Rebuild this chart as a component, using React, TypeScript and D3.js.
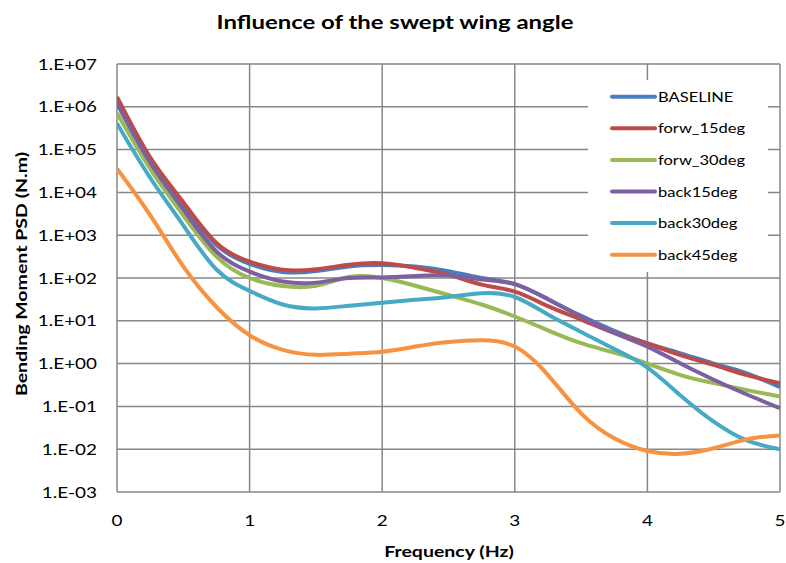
import React from "react";
import * as d3 from "d3";

const freqs = [0, 0.25, 0.5, 0.75, 1, 1.25, 1.5, 1.75, 2, 2.25, 2.5, 2.75, 3, 3.25, 3.5, 3.75, 4, 4.25, 4.5, 4.75, 5];

const baseline = [1.4e6, 5.6e4, 5.0e3, 590, 214, 138, 145, 186, 200, 185, 145, 100, 72, 32, 13, 5.8, 2.95, 1.74, 1.0, 0.59, 0.28];
const forw15 = [1.7e6, 6.6e4, 5.9e3, 660, 240, 155, 160, 204, 220, 172, 120, 70, 48, 22, 10.7, 5.2, 2.95, 1.58, 0.93, 0.54, 0.35];
const forw30 = [7.2e5, 3.6e4, 2.9e3, 316, 100, 65, 66, 105, 100, 66, 40, 24, 12.6, 6.0, 3.0, 1.8, 1.0, 0.54, 0.35, 0.24, 0.17];
const back15 = [1.2e6, 5.0e4, 4.0e3, 417, 141, 83, 78, 100, 103, 112, 114, 92, 72, 32, 12.6, 5.2, 2.5, 1.0, 0.42, 0.19, 0.091];
const back30 = [4.1e5, 2.2e4, 1.7e3, 158, 50, 24, 19.5, 22.5, 26.3, 31, 36, 44, 36, 14, 5.5, 2.2, 0.81, 0.18, 0.044, 0.016, 0.01];
const back45 = [3.6e4, 2.95e3, 186, 21, 4.6, 2.1, 1.6, 1.7, 1.9, 2.5, 3.2, 3.5, 2.5, 0.54, 0.069, 0.018, 0.0091, 0.0078, 0.0105, 0.017, 0.021];

const seriesNames = ["BASELINE", "forw_15deg", "forw_30deg", "back15deg", "back30deg", "back45deg"];
const seriesValues = [baseline, forw15, forw30, back15, back30, back45];
const seriesColors = ["#4A7EBB", "#BE4B48", "#98B954", "#7D60A0", "#46AAC5", "#F69240"];

const yTicks = [1e7, 1e6, 1e5, 1e4, 1e3, 1e2, 1e1, 1e0, 1e-1, 1e-2, 1e-3];
const yTickLabels = ["1.E+07", "1.E+06", "1.E+05", "1.E+04", "1.E+03", "1.E+02", "1.E+01", "1.E+00", "1.E-01", "1.E-02", "1.E-03"];
const xTicks = [0, 1, 2, 3, 4, 5];

const W = 786;
const H = 563;
const left = 117;
const right = 780;
const top = 64;
const bottom = 492;
const font = "Lato, 'Open Sans', sans-serif";
const SX = 1.26;

function T(props: {
  x: number;
  y: number;
  size: number;
  anchor?: string;
  bold?: boolean;
  rotate?: number;
  sx?: number;
  children: React.ReactNode;
}) {
  const { x, y, size, anchor = "start", bold = false, rotate = 0, sx = SX, children } = props;
  return (
    <text
      transform={`translate(${x},${y}) rotate(${rotate}) scale(${sx},1)`}
      textAnchor={anchor}
      fontFamily={font}
      fontWeight={bold ? "bold" : "normal"}
      fontSize={size}
      fill="#000"
    >
      {children}
    </text>
  );
}

export default function App() {
  const x = d3.scaleLinear().domain([0, 5]).range([left, right]);
  const y = d3.scaleLog().domain([1e-3, 1e7]).range([bottom, top]);
  const line = d3
    .line<number>()
    .x((_, i) => x(freqs[i]))
    .y((v) => y(v))
    .curve(d3.curveNatural);

  const legX = 588;
  const legY = 80;
  const legRow0 = 96.7;
  const legStep = 31.6;

  return (
    <svg width={W} height={H} style={{ position: "absolute", left: 0, top: 0, background: "#fff" }}>
      <rect x={0} y={0} width={W} height={H} fill="#fff" />
      <T x={395} y={29} size={18} anchor="middle" bold sx={1.33}>
        Influence of the swept wing angle
      </T>
      {yTicks.map((t) => (
        <line key={"gy" + t} x1={left} x2={right} y1={y(t)} y2={y(t)} stroke="#878787" strokeWidth={1.5} />
      ))}
      {xTicks.map((t) => (
        <line key={"gx" + t} x1={x(t)} x2={x(t)} y1={top} y2={bottom} stroke="#878787" strokeWidth={1.5} />
      ))}
      <rect x={legX} y={legY} width={180} height={192} fill="#fff" />
      <defs>
        <clipPath id="clip">
          <rect x={left} y={top - 2} width={right - left + 3} height={bottom - top + 4} />
        </clipPath>
      </defs>
      <g clipPath="url(#clip)">
        {seriesValues.map((vals, i) => (
          <path key={seriesNames[i]} d={line(vals) || ""} fill="none" stroke={seriesColors[i]} strokeWidth={4} strokeLinejoin="round" />
        ))}
      </g>
      {seriesNames.map((n, i) => (
        <g key={"leg" + n}>
          <line x1={612} x2={655} y1={legRow0 + i * legStep} y2={legRow0 + i * legStep} stroke={seriesColors[i]} strokeWidth={4} strokeLinecap="round" />
          <T x={658} y={legRow0 + i * legStep + 5} size={14} sx={1.18}>
            {n}
          </T>
        </g>
      ))}
      {yTicks.map((t, i) => (
        <T key={"yl" + t} x={97} y={y(t) + 5.5} size={15} anchor="end">
          {yTickLabels[i]}
        </T>
      ))}
      {xTicks.map((t) => (
        <T key={"xl" + t} x={x(t)} y={526} size={15} anchor="middle">
          {t}
        </T>
      ))}
      <T x={449} y={557} size={15.5} anchor="middle" bold>
        Frequency (Hz)
      </T>
      <T x={27} y={(top + bottom) / 2 - 4} size={15.5} anchor="middle" bold rotate={-90}>
        Bending Moment PSD (N.m)
      </T>
    </svg>
  );
}
